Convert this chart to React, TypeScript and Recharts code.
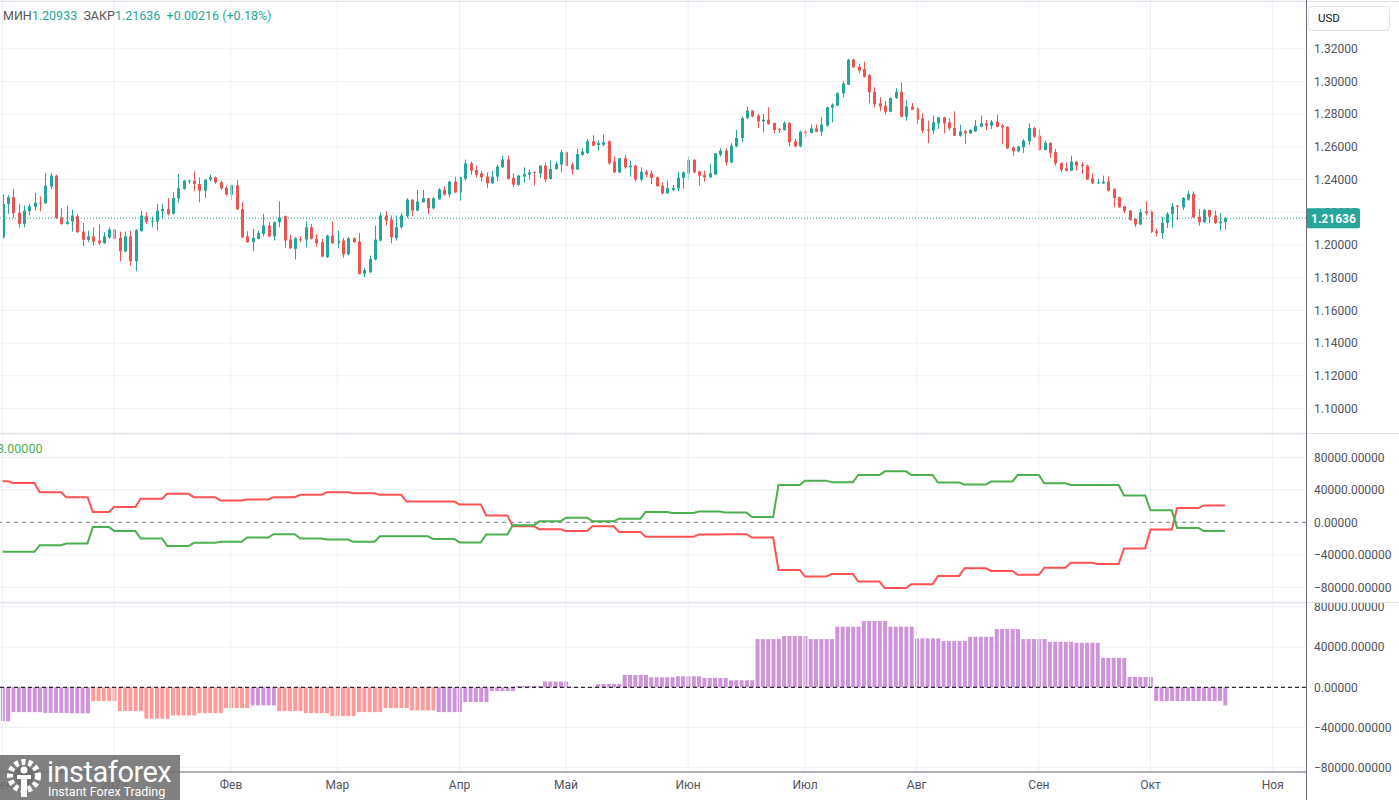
import React from 'react';
import { ComposedChart, Bar, Line, XAxis, YAxis, CartesianGrid, ReferenceLine, Cell } from 'recharts';

const UP = '#26a69a';
const DOWN = '#ef5350';
const GRID = '#eef0f5';
const SEP = '#e0e3eb';
const AXIS = '#6b6e78';
const TEXT = '#50535e';
const PURPLE = '#ce93d8';
const PINK = '#ff9a9a';
const FONT = 'Roboto, "Liberation Sans", sans-serif';

const W = 1399;
const AXIS_W = 93;
const X_DOMAIN: [number, number] = [-0.47, 245.25];
const PRICE_DOMAIN: [number, number] = [1.085, 1.3498];

// daily candles, 1 Dec 2022 .. 20 Oct 2023: [open, high, low, close]
const candles: number[][] = [
  [1.2047, 1.2310, 1.2040, 1.2251], [1.2251, 1.2306, 1.2190, 1.2292], [1.2292, 1.2343, 1.2166, 1.2194],
  [1.2196, 1.2251, 1.2108, 1.2129], [1.2129, 1.2241, 1.2108, 1.2210], [1.2206, 1.2251, 1.2180, 1.2237],
  [1.2231, 1.2318, 1.2210, 1.2259], [1.2259, 1.2296, 1.2206, 1.2255], [1.2255, 1.2440, 1.2251, 1.2363],
  [1.2357, 1.2440, 1.2343, 1.2424], [1.2424, 1.2430, 1.2159, 1.2166], [1.2169, 1.2225, 1.2123, 1.2129],
  [1.2129, 1.2241, 1.2123, 1.2143], [1.2143, 1.2215, 1.2082, 1.2180], [1.2176, 1.2190, 1.2074, 1.2078],
  [1.2082, 1.2136, 1.1992, 1.2031], [1.2031, 1.2088, 1.2017, 1.2052], [1.2052, 1.2108, 1.1997, 1.2021],
  [1.2027, 1.2125, 1.2001, 1.2011], [1.2011, 1.2078, 1.2006, 1.2052], [1.2047, 1.2108, 1.2037, 1.2094],
  [1.2094, 1.2098, 1.2033, 1.2037], [1.2043, 1.2082, 1.1901, 1.1962], [1.1960, 1.2082, 1.1955, 1.2052],
  [1.2052, 1.2088, 1.1874, 1.1901], [1.1901, 1.2096, 1.1839, 1.2092], [1.2084, 1.2210, 1.2082, 1.2180],
  [1.2176, 1.2200, 1.2129, 1.2143], [1.2145, 1.2173, 1.2108, 1.2149], [1.2143, 1.2251, 1.2088, 1.2210],
  [1.2206, 1.2251, 1.2159, 1.2221], [1.2221, 1.2286, 1.2180, 1.2190], [1.2190, 1.2323, 1.2186, 1.2286],
  [1.2286, 1.2434, 1.2257, 1.2347], [1.2343, 1.2398, 1.2337, 1.2393], [1.2389, 1.2400, 1.2373, 1.2393],
  [1.2393, 1.2451, 1.2328, 1.2373], [1.2373, 1.2414, 1.2261, 1.2332], [1.2332, 1.2404, 1.2288, 1.2400],
  [1.2400, 1.2430, 1.2389, 1.2414], [1.2414, 1.2418, 1.2373, 1.2383], [1.2383, 1.2393, 1.2337, 1.2347],
  [1.2349, 1.2363, 1.2302, 1.2308], [1.2308, 1.2369, 1.2275, 1.2365], [1.2365, 1.2397, 1.2214, 1.2218],
  [1.2220, 1.2261, 1.2043, 1.2047], [1.2052, 1.2084, 1.2013, 1.2017], [1.2017, 1.2098, 1.1962, 1.2043],
  [1.2037, 1.2088, 1.2033, 1.2072], [1.2067, 1.2190, 1.2052, 1.2119], [1.2119, 1.2139, 1.2047, 1.2052],
  [1.2052, 1.2143, 1.2027, 1.2139], [1.2139, 1.2267, 1.2108, 1.2169], [1.2176, 1.2180, 1.1982, 1.2027],
  [1.2033, 1.2063, 1.1976, 1.1980], [1.1976, 1.2047, 1.1911, 1.2041], [1.2035, 1.2052, 1.2017, 1.2031],
  [1.2033, 1.2145, 1.1986, 1.2108], [1.2108, 1.2129, 1.2033, 1.2037], [1.2037, 1.2067, 1.1990, 1.2011],
  [1.2017, 1.2037, 1.1925, 1.1929], [1.1925, 1.2063, 1.1921, 1.2057], [1.2057, 1.2143, 1.2006, 1.2011],
  [1.2011, 1.2088, 1.1982, 1.2027], [1.2027, 1.2043, 1.1921, 1.1942], [1.1942, 1.2047, 1.1938, 1.2041],
  [1.2041, 1.2047, 1.2013, 1.2017], [1.2021, 1.2072, 1.1819, 1.1823], [1.1823, 1.1860, 1.1803, 1.1847],
  [1.1833, 1.1935, 1.1829, 1.1915], [1.1911, 1.2119, 1.1905, 1.2033], [1.2027, 1.2200, 1.2023, 1.2180],
  [1.2180, 1.2206, 1.2119, 1.2149], [1.2155, 1.2180, 1.2011, 1.2047], [1.2043, 1.2180, 1.2027, 1.2108],
  [1.2108, 1.2195, 1.2100, 1.2180], [1.2176, 1.2286, 1.2165, 1.2277], [1.2277, 1.2279, 1.2176, 1.2210],
  [1.2210, 1.2336, 1.2206, 1.2265], [1.2261, 1.2336, 1.2259, 1.2286], [1.2286, 1.2288, 1.2190, 1.2224],
  [1.2224, 1.2292, 1.2218, 1.2286], [1.2279, 1.2347, 1.2277, 1.2340], [1.2338, 1.2357, 1.2302, 1.2308],
  [1.2308, 1.2393, 1.2292, 1.2387], [1.2387, 1.2418, 1.2318, 1.2322], [1.2322, 1.2418, 1.2271, 1.2414],
  [1.2404, 1.2522, 1.2393, 1.2499], [1.2499, 1.2510, 1.2430, 1.2454], [1.2459, 1.2485, 1.2414, 1.2430],
  [1.2438, 1.2454, 1.2387, 1.2414], [1.2418, 1.2444, 1.2347, 1.2377], [1.2377, 1.2454, 1.2373, 1.2418],
  [1.2418, 1.2491, 1.2393, 1.2479], [1.2475, 1.2546, 1.2470, 1.2522], [1.2522, 1.2546, 1.2400, 1.2404],
  [1.2410, 1.2438, 1.2353, 1.2369], [1.2367, 1.2430, 1.2363, 1.2424], [1.2418, 1.2475, 1.2383, 1.2434],
  [1.2430, 1.2461, 1.2400, 1.2444], [1.2446, 1.2450, 1.2363, 1.2440], [1.2438, 1.2488, 1.2410, 1.2485],
  [1.2485, 1.2503, 1.2383, 1.2400], [1.2404, 1.2516, 1.2400, 1.2465], [1.2465, 1.2510, 1.2459, 1.2495],
  [1.2491, 1.2583, 1.2444, 1.2567], [1.2567, 1.2571, 1.2481, 1.2485], [1.2491, 1.2505, 1.2430, 1.2461],
  [1.2461, 1.2587, 1.2459, 1.2556], [1.2550, 1.2591, 1.2546, 1.2571], [1.2562, 1.2648, 1.2556, 1.2634],
  [1.2634, 1.2672, 1.2605, 1.2607], [1.2611, 1.2638, 1.2577, 1.2622], [1.2613, 1.2675, 1.2603, 1.2628],
  [1.2634, 1.2638, 1.2491, 1.2499], [1.2510, 1.2540, 1.2440, 1.2444], [1.2444, 1.2532, 1.2440, 1.2530],
  [1.2530, 1.2550, 1.2465, 1.2475], [1.2475, 1.2516, 1.2418, 1.2485], [1.2485, 1.2491, 1.2389, 1.2400],
  [1.2400, 1.2475, 1.2389, 1.2448], [1.2448, 1.2459, 1.2414, 1.2430], [1.2438, 1.2454, 1.2373, 1.2410],
  [1.2414, 1.2418, 1.2357, 1.2359], [1.2363, 1.2383, 1.2308, 1.2316], [1.2316, 1.2393, 1.2312, 1.2347],
  [1.2336, 1.2367, 1.2328, 1.2349], [1.2347, 1.2448, 1.2328, 1.2410], [1.2410, 1.2450, 1.2343, 1.2444],
  [1.2438, 1.2540, 1.2400, 1.2520], [1.2520, 1.2526, 1.2438, 1.2444], [1.2450, 1.2454, 1.2363, 1.2424],
  [1.2430, 1.2454, 1.2387, 1.2414], [1.2414, 1.2495, 1.2410, 1.2438], [1.2430, 1.2562, 1.2428, 1.2560],
  [1.2552, 1.2591, 1.2540, 1.2577], [1.2577, 1.2591, 1.2485, 1.2505], [1.2505, 1.2622, 1.2501, 1.2607],
  [1.2603, 1.2703, 1.2597, 1.2654], [1.2654, 1.2785, 1.2628, 1.2776], [1.2776, 1.2846, 1.2770, 1.2821],
  [1.2821, 1.2825, 1.2781, 1.2787], [1.2791, 1.2801, 1.2715, 1.2756], [1.2756, 1.2801, 1.2689, 1.2766],
  [1.2766, 1.2842, 1.2736, 1.2740], [1.2746, 1.2748, 1.2683, 1.2703], [1.2709, 1.2715, 1.2685, 1.2705],
  [1.2703, 1.2756, 1.2699, 1.2746], [1.2746, 1.2750, 1.2603, 1.2628], [1.2634, 1.2648, 1.2597, 1.2603],
  [1.2603, 1.2699, 1.2597, 1.2693], [1.2693, 1.2703, 1.2658, 1.2683], [1.2685, 1.2736, 1.2683, 1.2713],
  [1.2713, 1.2736, 1.2689, 1.2693], [1.2693, 1.2781, 1.2668, 1.2736], [1.2730, 1.2846, 1.2723, 1.2842],
  [1.2840, 1.2866, 1.2750, 1.2858], [1.2852, 1.2933, 1.2848, 1.2929], [1.2927, 1.3000, 1.2903, 1.2988],
  [1.2980, 1.3139, 1.2978, 1.3133], [1.3133, 1.3139, 1.3082, 1.3086], [1.3090, 1.3110, 1.3051, 1.3066],
  [1.3076, 1.3121, 1.3025, 1.3029], [1.3039, 1.3045, 1.2866, 1.2933], [1.2937, 1.2964, 1.2842, 1.2862],
  [1.2866, 1.2903, 1.2817, 1.2846], [1.2852, 1.2882, 1.2797, 1.2815], [1.2815, 1.2903, 1.2811, 1.2899],
  [1.2899, 1.2958, 1.2893, 1.2937], [1.2937, 1.2994, 1.2780, 1.2784], [1.2784, 1.2886, 1.2760, 1.2846],
  [1.2846, 1.2868, 1.2825, 1.2827], [1.2835, 1.2842, 1.2740, 1.2766], [1.2774, 1.2805, 1.2683, 1.2699],
  [1.2707, 1.2760, 1.2622, 1.2699], [1.2699, 1.2791, 1.2679, 1.2750], [1.2744, 1.2784, 1.2709, 1.2780],
  [1.2780, 1.2784, 1.2683, 1.2744], [1.2750, 1.2776, 1.2699, 1.2713], [1.2715, 1.2817, 1.2665, 1.2668],
  [1.2668, 1.2735, 1.2662, 1.2695], [1.2695, 1.2703, 1.2617, 1.2683], [1.2683, 1.2709, 1.2679, 1.2703],
  [1.2695, 1.2764, 1.2689, 1.2729], [1.2723, 1.2791, 1.2719, 1.2744], [1.2744, 1.2764, 1.2703, 1.2730],
  [1.2730, 1.2764, 1.2709, 1.2754], [1.2754, 1.2797, 1.2719, 1.2723], [1.2730, 1.2740, 1.2617, 1.2719],
  [1.2723, 1.2725, 1.2587, 1.2591], [1.2597, 1.2601, 1.2546, 1.2573], [1.2573, 1.2607, 1.2567, 1.2601],
  [1.2597, 1.2648, 1.2563, 1.2638], [1.2634, 1.2744, 1.2613, 1.2715], [1.2715, 1.2723, 1.2654, 1.2662],
  [1.2668, 1.2709, 1.2577, 1.2581], [1.2581, 1.2638, 1.2577, 1.2624], [1.2624, 1.2628, 1.2532, 1.2562],
  [1.2567, 1.2587, 1.2485, 1.2499], [1.2501, 1.2505, 1.2444, 1.2459], [1.2469, 1.2505, 1.2448, 1.2454],
  [1.2454, 1.2546, 1.2452, 1.2510], [1.2510, 1.2512, 1.2454, 1.2485], [1.2491, 1.2505, 1.2434, 1.2481],
  [1.2485, 1.2491, 1.2397, 1.2400], [1.2408, 1.2438, 1.2373, 1.2377], [1.2377, 1.2404, 1.2373, 1.2383],
  [1.2377, 1.2424, 1.2373, 1.2387], [1.2389, 1.2418, 1.2326, 1.2332], [1.2343, 1.2345, 1.2230, 1.2288],
  [1.2292, 1.2296, 1.2228, 1.2230], [1.2236, 1.2240, 1.2194, 1.2206], [1.2210, 1.2214, 1.2149, 1.2153],
  [1.2159, 1.2163, 1.2108, 1.2125], [1.2125, 1.2220, 1.2123, 1.2200], [1.2206, 1.2267, 1.2180, 1.2194],
  [1.2204, 1.2210, 1.2074, 1.2078], [1.2084, 1.2098, 1.2053, 1.2072], [1.2072, 1.2169, 1.2037, 1.2135],
  [1.2135, 1.2200, 1.2104, 1.2190], [1.2190, 1.2255, 1.2104, 1.2236], [1.2240, 1.2245, 1.2153, 1.2234],
  [1.2230, 1.2292, 1.2214, 1.2288], [1.2277, 1.2332, 1.2271, 1.2312], [1.2312, 1.2328, 1.2165, 1.2169],
  [1.2173, 1.2220, 1.2118, 1.2139], [1.2139, 1.2220, 1.2135, 1.2214], [1.2214, 1.2216, 1.2133, 1.2173],
  [1.2180, 1.2210, 1.2129, 1.2133], [1.2133, 1.2194, 1.2088, 1.2142], [1.2140, 1.2169, 1.2093, 1.2164],
];

const monthTicks = [0, 21, 43, 63, 86, 106, 129, 151, 172, 195, 216, 239];
const monthLabels = ['дек', '2023', 'Фев', 'Мар', 'Апр', 'Май', 'Июн', 'Июл', 'Авг', 'Сен', 'Окт', 'Ноя'];

const priceTicks = [1.1, 1.12, 1.14, 1.16, 1.18, 1.2, 1.22, 1.24, 1.26, 1.28, 1.3, 1.32];
const lastClose = 1.21636;
const posTicks = [-80000, -40000, 0, 40000, 80000];

// weekly positioning: bar index where each reported value takes effect
const cotStart = [0, 2, 7, 12, 17, 21, 26, 31, 36, 41, 46, 51, 56, 61, 66, 71, 76, 81, 86, 91, 96, 101, 106, 111,
  116, 121, 126, 131, 136, 141, 146, 151, 156, 161, 166, 171, 176, 181, 186, 191, 196, 201, 206, 211, 216, 221, 226];
const longs = [-36300, -36300, -28100, -26000, -5700, -10600, -19900, -29300, -25300, -24000, -18700, -14700,
  -19900, -21200, -24000, -17100, -17100, -20400, -24800, -15000, -3700, 1200, 5700, 1200, 4500, 12600, 11400,
  13400, 12200, 6500, 46000, 51300, 49200, 58200, 62700, 58200, 48900, 46400, 50100, 58200, 48000, 46000, 46000,
  33000, 14700, -6900, -10600];
const shorts = [50400, 48500, 37000, 30900, 12600, 18700, 28900, 35000, 30900, 26900, 28100, 30900, 33800, 37000,
  35800, 33800, 25600, 25600, 22000, 8500, -4900, -8500, -10600, -4900, -11800, -17900, -17900, -15000, -14700,
  -18700, -58600, -66800, -63500, -72900, -81000, -76100, -66000, -56600, -59900, -64700, -55800, -49700, -51300,
  -32100, -8900, 17500, 20800];

const netStart = [0, 2, 8, 13, 17, 22, 27, 32, 37, 42, 47, 52, 57, 62, 67, 72, 77, 82, 87, 92, 97, 102, 107, 112,
  117, 122, 127, 132, 137, 142, 147, 152, 157, 162, 167, 172, 177, 182, 187, 192, 197, 202, 207, 212, 217, 222, 227, 230];
const net = [-33700, -24700, -25500, -25900, -13700, -23700, -31300, -28000, -25700, -20700, -18000, -23700, -25700,
  -28700, -24700, -20700, -23000, -24700, -14700, -3700, 1300, 5700, 400, 3300, 12300, 10000, 11000, 9300, 7000,
  48000, 51000, 48000, 60300, 66000, 60300, 48700, 46000, 50300, 58000, 48000, 45300, 44300, 29300, 10300, -13700,
  -13700, -13700, -18000];
const netTone = ['p', 'p', 'p', 'p', 'r', 'r', 'r', 'r', 'r', 'r', 'p', 'r', 'r', 'r', 'r', 'r', 'r', 'p', 'p', 'p',
  'p', 'p', 'p', 'p', 'p', 'p', 'p', 'p', 'p', 'p', 'p', 'p', 'p', 'p', 'p', 'p', 'p', 'p', 'p', 'p', 'p', 'p', 'p',
  'p', 'p', 'p', 'p', 'p'];

const stepAt = (starts: number[], vals: any[], i: number) => {
  let k = 0;
  while (k + 1 < starts.length && starts[k + 1] <= i) k++;
  return vals[k];
};

const rows = candles.map(([o, h, l, c], i) => ({
  i, o, h, l, c,
  range: [l, h],
  longs: stepAt(cotStart, longs, i),
  shorts: stepAt(cotStart, shorts, i),
  net: stepAt(netStart, net, i),
  tone: stepAt(netStart, netTone, i),
}));

const fmtPos = (v: number) => (v < 0 ? '−' : '') + Math.abs(v).toFixed(5);

const Candle = (props: any) => {
  const { x, y, width, height, payload } = props;
  if (x == null || y == null || !payload) return null;
  const { o, h, l, c } = payload;
  const top = Math.min(y, y + height);
  const span = Math.abs(height);
  const at = (v: number) => (h === l ? top : top + ((h - v) / (h - l)) * span);
  const cx = Math.round(x + width / 2);
  const color = c >= o ? UP : DOWN;
  const b1 = at(Math.max(o, c));
  const b2 = at(Math.min(o, c));
  return (
    <g>
      <rect x={cx} y={top} width={1} height={Math.max(1, span)} fill={color} />
      <rect x={cx - 1} y={b1} width={3} height={Math.max(1, b2 - b1)} fill={color} />
    </g>
  );
};

const PriceTag = (props: any) => {
  const { viewBox } = props;
  if (!viewBox) return null;
  const x = viewBox.x + viewBox.width;
  const y = viewBox.y;
  return (
    <g>
      <rect x={x} y={y - 10} width={54} height={20} rx={2} fill={UP} />
      <text x={x + 5} y={y + 4.5} fill="#fff" fontSize={12} fontWeight={700} fontFamily={FONT}>
        {lastClose.toFixed(5)}
      </text>
    </g>
  );
};

const tickStyle = { fill: TEXT, fontSize: 12, fontFamily: FONT };

const monthLines = monthTicks.map((m) => <ReferenceLine key={'m' + m} x={m} stroke={GRID} />);

function PricePane() {
  return (
    <ComposedChart width={W} height={433} data={rows} margin={{ top: 0, right: 0, bottom: 0, left: 0 }}>
      <CartesianGrid vertical={false} stroke={GRID} />
      <XAxis type="number" dataKey="i" domain={X_DOMAIN} hide allowDataOverflow />
      <YAxis orientation="right" width={AXIS_W} domain={PRICE_DOMAIN} ticks={priceTicks} interval={0}
        allowDataOverflow tickFormatter={(v) => v.toFixed(5)} tick={tickStyle} axisLine={false} tickLine={false} />
      {monthLines}
      <Bar dataKey="range" barSize={4} shape={<Candle />} isAnimationActive={false} />
    </ComposedChart>
  );
}

// last-price line and its tag, laid over the price pane so the tag sits above the axis labels
function PriceTagPane() {
  return (
    <ComposedChart width={W} height={433} data={rows} margin={{ top: 0, right: 0, bottom: 0, left: 0 }}>
      <XAxis type="number" dataKey="i" domain={X_DOMAIN} hide allowDataOverflow />
      <YAxis orientation="right" width={AXIS_W} domain={PRICE_DOMAIN} ticks={priceTicks} allowDataOverflow
        tick={false} axisLine={false} tickLine={false} />
      <ReferenceLine y={lastClose} stroke={UP} strokeDasharray="1 2" label={<PriceTag />} />
    </ComposedChart>
  );
}

function PositionsPane() {
  return (
    <ComposedChart width={W} height={168} data={rows} margin={{ top: 0, right: 0, bottom: 0, left: 0 }}>
      <CartesianGrid vertical={false} stroke={GRID} />
      <XAxis type="number" dataKey="i" domain={X_DOMAIN} hide allowDataOverflow />
      <YAxis orientation="right" width={AXIS_W} domain={[-98100, 108700]} ticks={posTicks} interval={0}
        allowDataOverflow tickFormatter={fmtPos} tick={tickStyle} axisLine={false} tickLine={false} />
      {monthLines}
      <ReferenceLine y={0} stroke="#787b86" strokeDasharray="4 4" />
      <Line dataKey="shorts" type="linear" stroke="#ff5252" strokeWidth={2} dot={false} isAnimationActive={false} />
      <Line dataKey="longs" type="linear" stroke="#4caf50" strokeWidth={2} dot={false} isAnimationActive={false} />
    </ComposedChart>
  );
}

function NetPane() {
  return (
    <ComposedChart width={W} height={197} data={rows} margin={{ top: 0, right: 0, bottom: 0, left: 0 }}>
      <CartesianGrid vertical={false} stroke={GRID} />
      <XAxis type="number" dataKey="i" domain={X_DOMAIN} ticks={monthTicks} interval={0} allowDataOverflow
        height={28} tickFormatter={(v) => monthLabels[monthTicks.indexOf(v)]} tick={tickStyle}
        axisLine={{ stroke: AXIS }} tickLine={false} />
      <YAxis orientation="right" width={AXIS_W} domain={[-84300, 83900]} ticks={posTicks} interval={0}
        allowDataOverflow tickFormatter={fmtPos} tick={tickStyle} axisLine={false} tickLine={false} />
      {monthLines}
      <Bar dataKey="net" barSize={4} isAnimationActive={false}>
        {rows.map((r) => (
          <Cell key={r.i} fill={r.tone === 'r' ? PINK : PURPLE} />
        ))}
      </Bar>
      <ReferenceLine y={0} stroke="#000" strokeDasharray="4 3" />
    </ComposedChart>
  );
}

function Logo() {
  return (
    <div style={{ position: 'absolute', left: 0, top: 755, width: 180, height: 45, background: 'rgba(110,110,110,0.88)', color: '#fff', fontFamily: FONT }}>
      <svg width={46} height={45} style={{ position: 'absolute', left: 2, top: 0 }}>
        <circle cx={22} cy={21} r={14} fill="none" stroke="#fff" strokeWidth={6} strokeDasharray="4 3" />
        <circle cx={22} cy={21} r={10} fill="rgba(110,110,110,1)" />
        <circle cx={22} cy={15} r={3.5} fill="#fff" />
        <rect x={15} y={20} width={14} height={4} fill="#fff" />
        <rect x={19} y={20} width={6} height={22} fill="#fff" />
      </svg>
      <div style={{ position: 'absolute', left: 47, top: 1, fontSize: 29, lineHeight: '32px', letterSpacing: -0.5 }}>instaforex</div>
      <div style={{ position: 'absolute', left: 48, top: 30, fontSize: 12.5, lineHeight: '14px' }}>Instant Forex Trading</div>
    </div>
  );
}

export default function App() {
  const abs = (top: number): React.CSSProperties => ({ position: 'absolute', left: 0, top });
  return (
    <div style={{ position: 'absolute', left: 0, top: 0, width: W, height: 800, background: '#fff', overflow: 'hidden', fontFamily: FONT }}>
      <div style={abs(0)}><PricePane /></div>
      <div style={abs(434)}><PositionsPane /></div>
      <div style={abs(603)}><NetPane /></div>
      <div style={{ ...abs(0), pointerEvents: 'none' }}><PriceTagPane /></div>

      <div style={{ position: 'absolute', left: 0, top: 1, width: W, height: 1, background: SEP }} />
      <div style={{ position: 'absolute', left: 0, top: 433, width: W, height: 1, background: SEP }} />
      <div style={{ position: 'absolute', left: 0, top: 602, width: W, height: 1, background: SEP }} />
      <div style={{ position: 'absolute', left: 1306, top: 0, width: 1, height: 800, background: AXIS }} />

      <div style={{ position: 'absolute', left: 3, top: 8, fontSize: 12.5, color: '#555', whiteSpace: 'pre' }}>
        МИН<span style={{ color: UP }}>1.20933</span>{'  '}ЗАКР<span style={{ color: UP }}>1.21636</span>{'  '}
        <span style={{ color: UP }}>+0.00216 (+0.18%)</span>
      </div>
      <div style={{ position: 'absolute', left: -3, top: 441, fontSize: 12.5, color: '#4caf50' }}>3.00000</div>

      <div style={{ position: 'absolute', left: 1308, top: 6, width: 82, height: 25, border: '1px solid ' + SEP, borderRadius: 4, background: '#fff', boxSizing: 'border-box', fontSize: 11.5, color: '#131722', lineHeight: '23px', paddingLeft: 9 }}>USD</div>

      <Logo />
    </div>
  );
}
